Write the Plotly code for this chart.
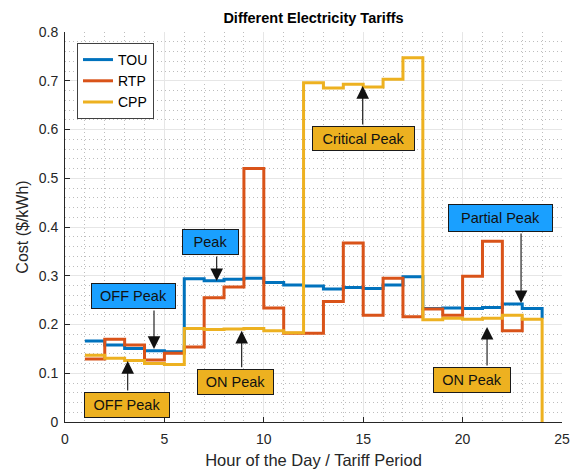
import plotly.graph_objects as go

hours = list(range(1, 25))
hours_rtp = list(range(1, 24))
tou = [0.166, 0.158, 0.151, 0.146, 0.144, 0.294, 0.290, 0.293, 0.295, 0.286, 0.281, 0.279,
       0.273, 0.276, 0.274, 0.281, 0.298, 0.233, 0.234, 0.233, 0.235, 0.242, 0.233, 0.212]
rtp = [0.129, 0.170, 0.158, 0.127, 0.141, 0.154, 0.255, 0.277, 0.520, 0.234, 0.182, 0.182,
       0.247, 0.367, 0.219, 0.295, 0.216, 0.232, 0.219, 0.299, 0.371, 0.187, 0.214]
cpp = [0.137, 0.131, 0.126, 0.120, 0.118, 0.192, 0.190, 0.191, 0.192, 0.187, 0.183, 0.696,
       0.685, 0.693, 0.687, 0.703, 0.747, 0.210, 0.213, 0.211, 0.213, 0.219, 0.211, 0.0]

series = [("TOU", hours, tou, "#0072BD"),
          ("RTP", hours_rtp, rtp, "#D95319"),
          ("CPP", hours, cpp, "#EDB120")]

BLUE_BOX = "#1AA0FF"
YEL_BOX = "#EDB120"
FONT = "Liberation Sans, Arial, sans-serif"

fig = go.Figure()
for name, xs, ys, col in series:
    fig.add_trace(go.Scatter(x=xs, y=ys, mode="lines", name=name,
                             line=dict(color=col, width=3, shape="hv")))

# text boxes: (text, x_center, y_center, width, height, color)
boxes = [
    ("Critical Peak", 15.02, 0.5815, 103, 25, YEL_BOX),
    ("Partial Peak", 21.91, 0.4185, 105, 28, BLUE_BOX),
    ("ON Peak", 20.47, 0.0862, 78, 26, YEL_BOX),
    ("Peak", 7.32, 0.369, 57, 26, BLUE_BOX),
    ("OFF Peak", 3.446, 0.2585, 85, 26, BLUE_BOX),
    ("ON Peak", 8.577, 0.082, 77, 26, YEL_BOX),
    ("OFF Peak", 3.119, 0.0349, 86, 26, YEL_BOX),
]
# arrows: (tip_x, tip_y, tail offset in px)
arrows = [
    (14.975, 0.689, 40),
    (22.94, 0.244, -71),
    (21.23, 0.195, 40),
    (7.63, 0.289, -26),
    (4.477, 0.150, -40),
    (8.888, 0.187, 38),
    (3.154, 0.125, 31),
]
annotations = []
for t, x, y, w, h, c in boxes:
    annotations.append(dict(text=t, x=x, y=y, xref="x", yref="y", showarrow=False,
                            width=w - 2, height=h - 2, bgcolor=c, bordercolor="#1a1a1a",
                            borderwidth=1, borderpad=0, xanchor="center", yanchor="middle",
                            font=dict(family=FONT, size=14.5, color="#111111")))
for x, y, ay in arrows:
    annotations.append(dict(text="", x=x, y=y, xref="x", yref="y", showarrow=True,
                            ax=0, ay=ay, arrowhead=2, arrowsize=2.3, arrowwidth=1.1,
                            arrowcolor="#111111", standoff=0, startstandoff=0))

axis_common = dict(showline=True, linecolor="#262626", linewidth=1, mirror=False,
                   ticks="inside", ticklen=5, tickcolor="#262626", automargin=False,
                   showgrid=True, gridcolor="#e6e6e6", gridwidth=1, zeroline=False,
                   tickfont=dict(family=FONT, size=14, color="#262626"))
minor_common = dict(showgrid=True, gridcolor="#bdbdbd", griddash="1px,3px",
                    gridwidth=1, ticks="")

fig.update_layout(
    width=579, height=470,
    margin=dict(l=65, r=17, t=32, b=48),
    paper_bgcolor="white", plot_bgcolor="white",
    title=dict(text="<b>Different Electricity Tariffs</b>", x=0.5, xref="paper",
               y=1 - 18 / 470, yref="container", yanchor="middle",
               font=dict(family=FONT, size=14.5, color="#000000")),
    xaxis=dict(range=[0, 25], tickvals=[0, 5, 10, 15, 20, 25],
               ticklabelstandoff=4,
               title=dict(text="Hour of the Day / Tariff Period", standoff=8,
                          font=dict(family=FONT, size=16.5, color="#262626")),
               minor=dict(dtick=1, **minor_common),
               **axis_common),
    yaxis=dict(range=[0, 0.8], tickvals=[0, 0.1, 0.2, 0.3, 0.4, 0.5, 0.6, 0.7, 0.8],
               ticktext=["0", "0.1", "0.2", "0.3", "0.4", "0.5", "0.6", "0.7", "0.8"],
               ticklabelstandoff=3,
               title=dict(text="Cost ($/kWh)", standoff=6,
                          font=dict(family=FONT, size=16, color="#262626")),
               minor=dict(dtick=0.02, **minor_common),
               **axis_common),
    legend=dict(x=0.0241, y=0.9718, xanchor="left", yanchor="top",
                bgcolor="white", bordercolor="#404040", borderwidth=1,
                font=dict(family=FONT, size=14, color="#000000"),
                tracegroupgap=0),
    annotations=annotations,
    showlegend=True,
)

fig.write_html("out.html")
